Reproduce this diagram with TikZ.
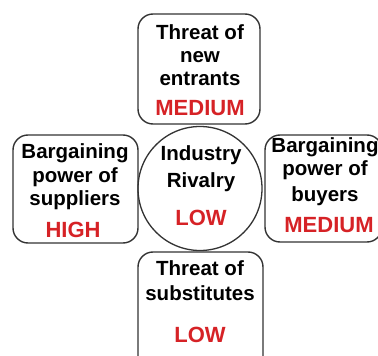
\documentclass[tikz,border=0pt]{standalone}
\usepackage{fontspec}
\setmainfont{Liberation Sans}
\begin{document}
\begin{tikzpicture}[x=1pt,y=-1pt,
  force/.style={draw=black!80,line width=1.4pt,rounded corners=15pt,inner sep=0pt},
  hub/.style={draw=black!80,line width=1.3pt,circle,inner sep=0pt,minimum size=124pt},
  lbl/.style={anchor=base,inner sep=0pt,font=\fontsize{20.5}{24}\bfseries},
  rating/.style={anchor=base,inner sep=0pt,text=ratingred,font=\fontsize{22}{26}\bfseries}]
\definecolor{ratingred}{RGB}{214,34,38}
\useasboundingbox (0,0) rectangle (378,356);
\clip (0,0) rectangle (378,356);
% the four forces around the central rivalry circle
\node[force,minimum width=122pt,minimum height=110pt] (top) at (199,69) {};
\node[force,minimum width=125pt,minimum height=108pt] (left) at (75.5,189) {};
\node[force,minimum width=117pt,minimum height=107pt] (right) at (323.5,188.5) {};
\node[force,minimum width=125pt,minimum height=120pt] (bottom) at (200.5,312) {};
\node[hub] (rivalry) at (200,188.5) {};
% threat of new entrants
\node[lbl] (t1) at (200,39) {Threat of};
\node[lbl] (t2) at (200,62) {new};
\node[lbl] (t3) at (200,85) {entrants};
\node[rating] (t4) at (200,115) {MEDIUM};
% supplier power
\node[lbl] (l1) at (75,158) {Bargaining};
\node[lbl] (l2) at (75,182) {power of};
\node[lbl] (l3) at (75,205) {suppliers};
\node[rating] (l4) at (73,237) {HIGH};
% buyer power
\node[lbl] (r1) at (325,152) {Bargaining};
\node[lbl] (r2) at (325,175) {power of};
\node[lbl] (r3) at (325,201) {buyers};
\node[rating] (r4) at (329,232) {MEDIUM};
% industry rivalry
\node[lbl] (c1) at (201,160) {Industry};
\node[lbl] (c2) at (201,187) {Rivalry};
\node[rating] (c3) at (201,225) {LOW};
% threat of substitutes
\node[lbl] (b1) at (200,275) {Threat of};
\node[lbl] (b2) at (200,300) {substitutes};
\node[rating] (b3) at (200,342) {LOW};
\end{tikzpicture}
\end{document}
